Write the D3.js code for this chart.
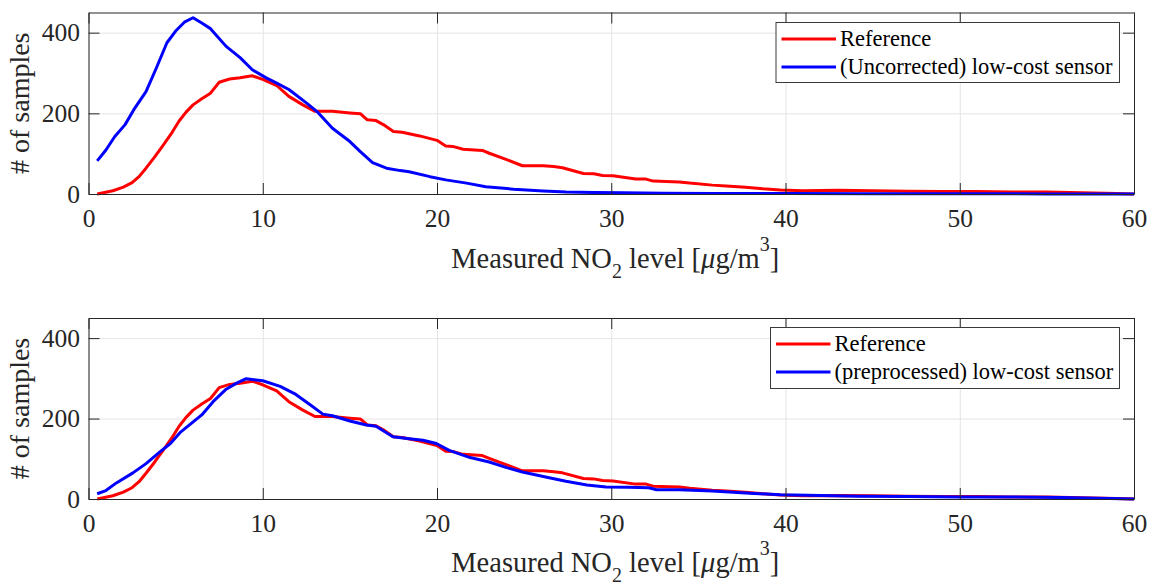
<!DOCTYPE html>
<html>
<head>
<meta charset="utf-8">
<script src="https://cdn.jsdelivr.net/npm/d3@7"></script>
<style>
  body { margin: 0; background: #fff; }
  svg { display: block; }
  svg text { font-family: 'Liberation Serif', 'DejaVu Serif', serif !important; }
</style>
</head>
<body>
<svg id="chart" width="1160" height="585"></svg>
<script>
// Histogram of NO2 readings (samples per bin), reference station vs low-cost sensor
const refX = [0.5, 1.4, 2.0, 2.5, 2.9, 3.3, 3.8, 4.3, 4.8, 5.2, 5.6, 6.0, 6.5, 7.0, 7.5, 8.1, 8.7, 9.4, 10.0, 10.8, 11.5, 12.3, 13.0, 14.0, 15.0, 15.6, 16.0, 16.5, 17.0, 17.5, 18.0, 19.0, 20.0, 20.5, 20.9, 21.5, 22.6, 23.0, 24.0, 24.9, 26.1, 26.7, 27.2, 28.4, 29.0, 29.5, 30.1, 31.4, 32.0, 32.4, 33.9, 34.5, 35.8, 36.6, 37.7, 38.7, 39.7, 41, 43, 45, 47, 49, 51, 53, 55, 57, 59, 60];
const refY = [0, 8, 17, 28, 43, 64, 92, 122, 153, 181, 203, 221, 236, 250, 277, 285, 288, 293, 284, 269, 242, 221, 205, 205, 201, 199, 184, 182, 170, 155, 153, 144, 133, 119, 118, 111, 108, 101, 85, 70, 70, 68, 65, 51, 50, 46, 45, 37, 37, 32, 30, 27, 22, 20, 17, 13, 10, 8, 9, 8, 7, 6, 6, 5, 5, 3, 1, 0];

const rawX = [0.5, 1.0, 1.5, 2.1, 2.6, 3.3, 3.9, 4.5, 5.0, 5.5, 6.0, 6.5, 7.0, 7.9, 8.7, 9.4, 10.2, 10.8, 11.5, 12.5, 13.1, 14.0, 15.0, 15.6, 16.3, 17.1, 17.9, 18.4, 19.6, 20.5, 21.7, 22.8, 24.4, 26.1, 27.4, 29, 30.7, 33, 36, 40, 45, 50, 55, 60];
const rawY = [82, 109, 142, 172, 209, 254, 313, 375, 404, 426, 437, 424, 410, 366, 338, 308, 288, 275, 259, 226, 205, 163, 130, 105, 78, 64, 58, 55, 43, 35, 27, 18, 12, 7.5, 5, 4, 3, 2, 1, 1, 0.5, 0.5, 0.3, 0];

const preX = [0.5, 1.0, 1.6, 2.55, 3.3, 4.1, 4.7, 5.3, 5.9, 6.5, 7.15, 7.9, 8.5, 9.05, 10.0, 11.0, 11.9, 12.7, 13.45, 14.0, 15.0, 15.95, 16.5, 17.47, 18.4, 19.2, 19.96, 20.7, 21.9, 23.0, 24.0, 24.9, 26.3, 27.4, 28.6, 29.7, 31.0, 32.15, 32.6, 33.9, 35.8, 37.7, 39.7, 42, 44.2, 47, 50, 53, 55.8, 58.6, 60];
const preY = [13, 21, 40, 65, 88, 117, 138, 167, 188, 209, 242, 273, 288, 299, 294, 280, 260, 235, 211, 207, 194, 184, 181, 155, 150, 146, 138, 121, 103, 92, 78, 67, 54, 44, 35, 30, 29, 28, 23, 23, 20, 15, 10.5, 9, 7, 6, 5, 5, 4, 1, 0];

const xTicks = [0, 10, 20, 30, 40, 50, 60];
const yTicks = [0, 200, 400];
const xDomain = [0, 60];
const yDomain = [0, 450];

const topLegend = ["Reference", "(Uncorrected) low-cost sensor"];
const bottomLegend = ["Reference", "(preprocessed) low-cost sensor"];

const RED = "#ff0000", BLUE = "#0000ff", AXIS = "#262626", GRID = "#e4e4e4";
const SERIF = "'Liberation Serif', 'DejaVu Serif', serif";

const svg = d3.select("#chart");
const x = d3.scaleLinear().domain(xDomain).range([88.5, 1134]);

const panels = [
  { top: 12.5, bottom: 194, series: [[refX, refY, RED], [rawX, rawY, BLUE]],
    legend: topLegend, box: [776, 22.5, 343.5, 60], labelY: 268 },
  { top: 318, bottom: 499, series: [[refX, refY, RED], [preX, preY, BLUE]],
    legend: bottomLegend, box: [770.5, 327.5, 349, 61], labelY: 572 }
];

panels.forEach(p => {
  const y = d3.scaleLinear().domain(yDomain).range([p.bottom, p.top]);
  const h = p.bottom - p.top;
  const w = x.range()[1] - x.range()[0];
  const g = svg.append("g");

  // grid
  g.append("g").attr("transform", `translate(0,${p.bottom})`)
    .call(d3.axisBottom(x).tickValues(xTicks).tickSize(-h).tickFormat(""))
    .call(s => s.select(".domain").remove())
    .call(s => s.selectAll("line").attr("stroke", GRID));
  g.append("g").attr("transform", `translate(${x.range()[0]},0)`)
    .call(d3.axisLeft(y).tickValues(yTicks).tickSize(-w).tickFormat(""))
    .call(s => s.select(".domain").remove())
    .call(s => s.selectAll("line").attr("stroke", GRID));

  // series
  const line = d3.line().x(d => x(d[0])).y(d => y(d[1]));
  p.series.forEach(([xs, ys, c]) => {
    g.append("path")
      .datum(xs.map((v, i) => [v, ys[i]]))
      .attr("fill", "none").attr("stroke", c).attr("stroke-width", 3)
      .attr("stroke-linejoin", "round").attr("d", line);
  });

  // axes with inward ticks on all four sides
  const styleAxis = s => {
    s.attr("font-family", SERIF);
    s.select(".domain").attr("stroke", AXIS);
    s.selectAll(".tick line").attr("stroke", AXIS);
    s.selectAll("text").attr("fill", AXIS).attr("font-size", 25.5).style("font-family", SERIF);
  };
  g.append("g").attr("transform", `translate(0,${p.bottom})`)
    .call(d3.axisBottom(x).tickValues(xTicks).tickSizeInner(-11).tickSizeOuter(0).tickPadding(14.5))
    .call(styleAxis);
  g.append("g").attr("transform", `translate(0,${p.top})`)
    .call(d3.axisTop(x).tickValues(xTicks).tickSizeInner(-11).tickSizeOuter(0).tickFormat(""))
    .call(styleAxis);
  g.append("g").attr("transform", `translate(${x.range()[0]},0)`)
    .call(d3.axisLeft(y).tickValues(yTicks).tickSizeInner(-11).tickSizeOuter(0).tickPadding(8.5))
    .call(styleAxis);
  g.append("g").attr("transform", `translate(${x.range()[1]},0)`)
    .call(d3.axisRight(y).tickValues(yTicks).tickSizeInner(-11).tickSizeOuter(0).tickFormat(""))
    .call(styleAxis);

  // axis titles
  g.append("text")
    .attr("transform", `translate(29,${(p.top + p.bottom) / 2}) rotate(-90)`)
    .attr("text-anchor", "middle").attr("font-size", 28).attr("fill", AXIS)
    .style("font-family", SERIF)
    .text("# of samples");

  const xl = g.append("text")
    .attr("x", (x.range()[0] + x.range()[1]) / 2 + 4).attr("y", p.labelY)
    .attr("text-anchor", "middle").attr("font-size", 28.5).attr("fill", AXIS)
    .style("font-family", SERIF);
  xl.append("tspan").text("Measured NO");
  xl.append("tspan").attr("dy", 10).attr("font-size", 20).text("2");
  xl.append("tspan").attr("dy", -10).text(" level [");
  xl.append("tspan").attr("font-style", "italic").text("\u03bc");
  xl.append("tspan").text("g/m");
  xl.append("tspan").attr("dy", -17).attr("font-size", 20).text("3");
  xl.append("tspan").attr("dy", 17).text("]");

  // legend
  const [bx, by, bw, bh] = p.box;
  const lg = g.append("g");
  lg.append("rect").attr("x", bx).attr("y", by).attr("width", bw).attr("height", bh)
    .attr("fill", "#fff").attr("stroke", "#3a3a3a").attr("stroke-width", 1);
  const rows = [p.series[0][2], p.series[1][2]];
  p.legend.forEach((label, i) => {
    const ly = by + 16.5 + i * 28;
    lg.append("line").attr("x1", bx + 5.5).attr("x2", bx + 60).attr("y1", ly).attr("y2", ly)
      .attr("stroke", rows[i]).attr("stroke-width", 3);
    lg.append("text").attr("x", bx + 64).attr("y", ly + 7).attr("font-size", 22.5)
      .style("font-family", SERIF)
      .attr("fill", "#000").text(label);
  });
});
</script>
</body>
</html>
